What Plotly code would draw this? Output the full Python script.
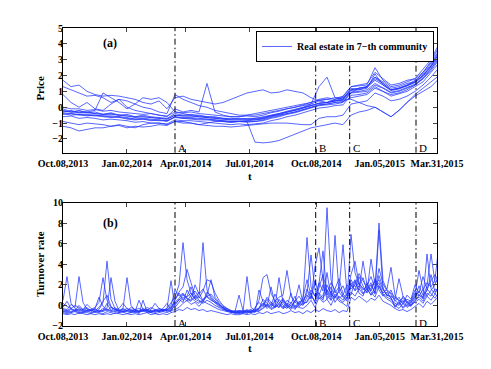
import plotly.graph_objects as go

# trading-day index of the samples (top panel every 8 days, bottom every 4 days)
t_price = list(range(0, 377, 8))
t_turn = list(range(0, 377, 4))

tick_pos = [0, 63.7, 122.7, 186.3, 253.3, 316.7, 374]
tick_text = ["Oct.08,2013", "Jan.02,2014", "Apr.01,2014", "Jul.01,2014",
             "Oct.08,2014", "Jan.05,2015", "Mar.31,2015"]

event_pos = [112, 252.7, 286.7, 353]
event_text = ["A", "B", "C", "D"]

# (a) normalised prices, one list per property
price_1 = [1.7, 1.3, 1.4, 1.0, 0.8, 0.7, 0.75, 0.7, 0.6, 0.5, 0.3, 0.2, 0.4, -0.1, 0.6, 0.7, 0.5, 0.4, 0.3, 0.2,
           0.3, 0.5, 0.7, 0.9, 1.0, 1.1, 0.9, 0.95, 1.1, 1.0, 0.9, 0.6, 0.4, 0.3, 0.5, 0.6, 0.9, 1.2, 1.3, 1.9,
           1.6, 1.2, 1.3, 1.5, 1.6, 2.2, 2.8, 3.6]
price_2 = [1.3, 1.1, 0.9, 0.7, 0.75, 0.6, 0.3, 0.5, 0.4, 0.2, 0.0, -0.1, -0.3, -0.4, 0.8, 0.5, 0.3, 0.1, 0.0, -0.2,
           -0.3, -0.4, -0.5, -0.5, -0.4, -0.3, -0.2, -0.1, 0.0, 0.1, 0.2, 0.3, 0.5, 0.6, 0.5, 0.7, 1.3, 1.4, 1.5, 2.2,
           1.8, 1.4, 1.5, 1.7, 1.8, 2.4, 3.0, 4.0]
price_3 = [0.8, 0.3, 0.0, 0.3, -0.1, -0.2, 0.2, 0.5, 0.0, -0.2, -0.3, -0.4, -0.5, -0.6, -0.1, -0.3, -0.2, -0.3, 1.5, -0.3,
           -0.5, -0.6, -0.6, -0.5, -0.5, -0.4, -0.3, -0.2, -0.1, 0.0, 0.1, 0.2, 0.4, 0.5, 0.4, 0.6, 1.1, 1.2, 1.3, 1.8,
           1.5, 1.1, 1.2, 1.4, 1.6, 2.0, 2.6, 3.2]
price_4 = [-1.2, -1.3, -1.5, -1.4, -1.3, -1.3, -1.2, -1.1, -1.2, -1.3, -1.1, -1.0, -1.0, -1.1, -0.9, -0.9, -1.0, -1.1, -1.0, -0.9,
           -0.9, -0.95, -0.9, -0.9, -2.2, -2.25, -2.2, -2.1, -1.9, -1.7, -1.5, -1.3, -1.2, -1.1, -1.0, -1.1, -0.5, -0.3, -0.2, 0.0,
           -0.3, -0.6, -0.2, 0.3, 0.7, 1.0, 1.3, 1.8]
price_5 = [-0.9, -1.0, -1.1, -1.0, -1.05, -1.1, -1.2, -1.15, -1.3, -1.2, -1.25, -1.2, -1.1, -1.15, -0.9, -1.0, -1.0, -1.1, -1.15, -1.2,
           -1.2, -1.25, -1.2, -1.15, -1.1, -1.05, -1.0, -1.0, -1.0, -1.05, -1.1, -1.1, -0.7, -0.6, -0.6, -0.5, 0.2, 0.3, 0.4, 0.9,
           0.7, 0.4, 0.5, 0.7, 1.0, 1.4, 1.9, 2.5]
price_6 = [-0.1, -0.3, -0.2, -0.35, -0.3, -0.45, -0.35, -0.5, -0.45, -0.6, -0.5, -0.6, -0.65, -0.7, -0.4, -0.5, -0.45, -0.55, -0.6, -0.65,
           -0.7, -0.75, -0.7, -0.75, -0.7, -0.6, -0.5, -0.4, -0.25, -0.1, 0.0, 0.2, 1.3, 1.9, 0.6, 0.5, 1.2, 1.1, 1.3, 1.9,
           1.5, 1.1, 1.2, 1.4, 1.7, 2.1, 2.7, 3.5]
price_7 = [-0.4, -0.5, -0.45, -0.55, -0.5, -0.6, -0.65, -0.6, -0.75, -0.8, -0.75, -0.85, -0.8, -0.9, -0.6, -0.7, -0.75, -0.8, -0.8, -0.85,
           -0.9, -0.95, -0.9, -0.95, -0.9, -0.85, -0.7, -0.6, -0.45, -0.35, -0.2, -0.05, 0.1, 0.15, 0.2, 0.3, 0.9, 0.95, 1.0, 1.4,
           1.2, 0.9, 1.0, 1.2, 1.4, 1.8, 2.3, 3.0]
price_8 = [0.0, -0.1, -0.1, -0.2, -0.15, -0.25, -0.2, -0.3, -0.35, -0.4, -0.45, -0.4, -0.5, -0.55, -0.3, -0.35, -0.3, -0.4, -0.45, -0.5,
           -0.55, -0.6, -0.6, -0.55, -0.6, -0.5, -0.35, -0.25, -0.1, 0.0, 0.15, 0.3, 0.45, 0.5, 0.6, 0.65, 1.3, 1.35, 1.4, 2.5,
           1.7, 1.3, 1.4, 1.6, 1.8, 2.2, 2.9, 3.8]
price_9 = [-0.6, -0.55, -0.7, -0.65, -0.7, -0.8, -0.75, -0.8, -0.85, -0.95, -0.9, -1.0, -1.0, -1.05, -0.8, -0.85, -0.85, -0.9, -0.95, -1.0,
           -1.05, -1.1, -1.05, -1.1, -1.05, -1.0, -0.85, -0.75, -0.6, -0.5, -0.35, -0.2, -0.05, 0.0, 0.1, 0.15, 0.75, 0.8, 0.9, 1.3,
           1.0, 0.7, 0.85, 1.0, 1.3, 1.6, 2.2, 2.8]
price_10 = [-0.2, -0.3, -0.25, -0.3, -0.2, 0.9, 0.6, 0.3, -0.1, 0.2, 0.6, 0.5, 0.6, 0.3, -0.3, -0.4, -0.5, -0.5, -0.6, -0.6,
            -0.7, -0.7, -0.75, -0.7, -0.7, -0.65, -0.5, -0.4, -0.3, -0.2, -0.05, 0.1, 0.25, 0.3, 0.4, 0.5, 1.1, 1.2, 1.25, 1.7,
            1.4, 1.1, 1.2, 1.35, 1.6, 2.0, 2.6, 3.4]
price_11 = [-0.45, -0.4, -0.5, -0.5, -0.55, -0.55, -0.6, -0.65, -0.7, -0.75, -0.75, -0.8, -0.85, -0.85, -0.65, -0.7, -0.7, -0.75, -0.75, -0.8,
            -0.85, -0.9, -0.9, -0.85, -0.8, -0.75, -0.6, -0.5, -0.4, -0.3, -0.15, 0.0, 0.15, 0.2, 0.3, 0.35, 0.6, 0.7, 0.8, 1.2,
            1.0, 0.8, 0.9, 1.1, 1.4, 1.8, 2.4, 3.1]
price_12 = [-0.3, -0.2, -0.35, -0.3, -0.4, -0.45, -0.4, -0.5, -0.55, -0.6, -0.6, -0.65, -0.7, -0.75, -0.5, -0.55, -0.55, -0.6, -0.65, -0.7,
            -0.75, -0.8, -0.8, -0.8, -0.75, -0.7, -0.55, -0.45, -0.3, -0.2, -0.05, 0.1, 0.25, 0.3, 0.4, 0.45, 0.5, 0.3, 0.1, 0.0,
            -0.3, -0.6, -0.2, 0.3, 0.8, 1.2, 1.6, 2.0]
price_13 = [-0.25, -0.3, -0.35, -0.35, -0.4, -0.45, -0.45, -0.5, -0.55, -0.65, -0.6, -0.65, -0.7, -0.75, -0.5, -0.55, -0.55, -0.6, -0.65, -0.7,
            -0.75, -0.8, -0.8, -0.8, -0.8, -0.7, -0.55, -0.45, -0.3, -0.2, -0.05, 0.1, 0.25, 0.3, 0.4, 0.45, 1.05, 1.1, 1.2, 2.1,
            1.4, 1.05, 1.15, 1.35, 1.55, 1.95, 2.55, 3.4]
price_14 = [-0.35, -0.4, -0.45, -0.45, -0.5, -0.55, -0.55, -0.6, -0.65, -0.75, -0.7, -0.75, -0.8, -0.85, -0.6, -0.65, -0.65, -0.7, -0.75, -0.8,
            -0.85, -0.9, -0.9, -0.9, -0.9, -0.8, -0.65, -0.55, -0.4, -0.3, -0.15, 0.0, 0.15, 0.2, 0.3, 0.35, 0.95, 1.0, 1.1, 1.5,
            1.25, 0.95, 1.05, 1.25, 1.45, 1.85, 2.45, 3.2]

# (b) turnover rates
turn_1 = [0.5, 2.8, 0.2, -0.3, -0.5, -0.4, -0.6, -0.5, -0.6, -0.4, 0.3, 4.3, 0.6, -0.3, -0.5, -0.6, -0.5, -0.6, -0.4, -0.6,
          -0.5, -0.7, -0.5, -0.6, -0.4, -0.5, -0.3, 0.2,
          0.8, 2.0, 6.1, 2.5, 1.2, 0.6, 0.4, 0.2, 0.5, 0.3, 0.0, -0.2, -0.4, -0.5, -0.6, -0.7,
          -0.7, -0.6, -0.5, -0.6, -0.4, -0.3, 0.2, -0.1, 0.3, 0.0, -0.2, 0.4, 0.1, -0.3, 0.5, 0.2, 0.0,
          0.8, 1.5, 0.9, 2.2, 1.4, 9.5, 2.5, 1.2, 1.8, 0.9, 0.6,
          2.5, 1.8, 2.2, 1.5, 1.9, 2.8, 1.6, 8.0, 2.4, 1.5, 1.2,
          0.8, 0.5, 0.3, 0.6, 0.4,
          1.2, 0.9, 1.5, 2.2, 1.8, 2.5, 6.0]
turn_2 = [-0.3, -0.4, 0.1, -0.2, 2.8, 0.3, -0.4, -0.5, -0.3, -0.6, -0.5, -0.3, 2.7, 0.4, -0.5, -0.4, -0.6, -0.7, -0.5, -0.6,
          -0.4, -0.5, -0.7, -0.5, -0.6, -0.4, -0.5, -0.6,
          0.2, 0.5, 1.0, 0.8, 1.2, 0.6, 0.9, 6.1, 1.5, 0.7, 0.4, 0.1, -0.2, -0.4, -0.6, -0.5,
          -0.6, -0.7, -0.5, -0.4, -0.6, -0.3, 0.6, 0.2, -0.2, 0.5, 0.1, -0.3, 0.2, 0.0, -0.4, 0.3, 0.6,
          6.6, 1.8, 0.9, 1.2, 0.7, 1.5, 0.5, 6.8, 1.3, 0.8, 0.4,
          6.9, 3.2, 2.0, 1.2, 1.6, 1.0, 1.8, 2.2, 1.1, 0.8, 0.6,
          0.2, 0.0, 0.5, -0.1, 0.3,
          0.8, 1.4, 0.7, 5.0, 1.6, 1.1, 2.0]
turn_3 = [-0.5, -0.6, -0.4, -0.5, -0.3, -0.6, -0.5, -0.4, -0.2, 0.3, 2.7, 0.5, -0.2, -0.4, -0.5, -0.3, 2.7, 0.0, -0.5, -0.6,
          -0.5, -0.4, -0.6, -0.5, -0.3, -0.5, -0.4, -0.2,
          0.5, 1.3, 1.8, 3.5, 2.2, 1.0, 0.7, 1.4, 2.5, 2.3, 1.2, 0.5, 0.0, -0.3, -0.5, -0.6,
          -0.5, -0.6, 2.8, -0.2, -0.5, -0.4, 0.0, 0.8, 0.3, -0.2, 0.2, 0.7, 0.0, -0.2, 0.4, 0.9, 0.3,
          1.2, 4.9, 1.5, 0.6, 1.0, 2.0, 1.1, 0.7, 1.5, 5.9, 1.2,
          1.8, 2.5, 1.5, 4.3, 2.0, 1.4, 2.6, 1.8, 1.2, 1.6, 3.7,
          1.0, 0.4, 0.7, 0.2, 0.5,
          1.5, 1.0, 0.8, 1.9, 5.0, 2.2, 2.6]
turn_4 = [-0.6, -0.7, -0.6, -0.5, -0.7, -0.6, -0.5, -0.7, -0.6, -0.5, -0.6, -0.4, -0.6, -0.5, -0.7, -0.6, -0.5, -0.4, -0.6, -0.7,
          -0.5, -0.6, -0.7, -0.5, -0.6, -0.5, -0.3, 2.4,
          -0.2, 0.3, 0.8, 0.4, 1.0, 1.4, 0.8, 0.5, 0.9, 1.1, 0.6, 0.2, -0.3, -0.5, -0.6, -0.7,
          -0.6, -0.5, -0.7, -0.6, -0.3, 0.5, 2.7, 3.0, 1.2, 0.4, 0.8, 1.0, 3.4, 0.9, 0.3, 0.1, 0.5,
          1.0, 0.6, 3.8, 5.6, 2.4, 1.0, 1.8, 0.8, 1.3, 1.9, 0.9,
          3.0, 4.3, 2.1, 1.7, 1.3, 4.5, 2.0, 2.5, 1.5, 1.0, 0.9,
          0.6, 2.6, 0.9, 0.4, 0.2,
          1.0, 3.4, 1.5, 0.9, 1.4, 2.0, 3.1]
turn_5 = [-0.7, -0.8, -0.7, -0.6, -0.8, -0.7, -0.7, -0.8, -0.6, -0.7, -0.8, -0.6, -0.7, -0.8, -0.7, -0.6, -0.8, -0.7, -0.6, -0.8,
          0.5, -0.6, -0.7, -0.8, -0.7, -0.6, -0.7, -0.5,
          -0.4, -0.2, 0.2, 0.5, 0.1, 0.3, -0.1, 0.4, 0.2, 0.0, -0.2, -0.4, -0.5, -0.6, -0.7, -0.6,
          1.0, -0.5, -0.6, -0.7, -0.5, -0.6, -0.2, 0.1, -0.3, -0.1, 2.7, 0.3, -0.2, 0.0, 0.4, 2.0, 0.2,
          0.3, 0.9, 0.4, 2.1, 5.3, 0.9, 0.5, 1.1, 0.6, 0.3, 0.8,
          1.3, 0.9, 1.6, 1.1, 1.4, 2.0, 1.2, 7.3, 1.6, 1.0, 0.8,
          -0.2, 0.3, -0.3, 0.1, -0.1,
          0.5, 0.8, 0.4, 1.2, 0.9, 1.6, 1.4]
turn_6 = [-0.4, -0.5, -0.3, -0.6, -0.4, -0.5, -0.3, -0.5, -0.4, -0.6, -0.3, -0.5, -0.2, -0.4, -0.6, -0.5, -0.3, -0.5, -0.6, 0.5,
          -0.4, -0.5, -0.6, -0.4, -0.5, -0.6, -0.4, -0.5,
          0.0, 0.6, 0.3, 1.5, 0.8, 0.4, 0.2, 0.6, 1.0, 2.5, 0.8, 0.3, -0.1, -0.3, -0.5, -0.7,
          -0.8, -0.7, -0.6, -0.7, -0.6, -0.5, -0.3, 0.0, -0.4, -0.2, 0.1, -0.3, -0.1, -0.4, 0.0, -0.2, -0.3,
          0.0, 0.5, -0.2, 0.8, 0.3, 0.6, 0.0, 0.9, 0.4, 0.2, -0.1,
          2.0, 1.5, 2.8, 1.9, 1.2, 1.7, 2.4, 1.5, 0.9, 1.3, 0.7,
          0.0, -0.3, 0.2, -0.2, 0.1,
          0.3, 0.6, 0.2, 0.9, 0.5, 1.1, 0.8]
turn_7 = [0.2, -0.1, -0.3, 0.0, -0.2, -0.4, 0.1, -0.3, -0.5, -0.2, 0.4, 1.0, -0.1, -0.4, -0.3, 0.2, -0.3, -0.5, -0.4, -0.3,
          -0.5, -0.2, -0.4, 0.2, -0.3, -0.4, -0.5, 0.0,
          1.5, 0.9, 1.2, 0.7, 0.5, 2.0, 1.1, 1.6, 0.8, 0.5, 0.3, 0.0, -0.2, -0.5, -0.6, -0.8,
          -0.7, -0.8, -0.6, -0.5, -0.7, 1.5, 0.4, -0.1, 1.8, 0.2, -0.2, 0.6, -0.1, 1.2, -0.3, 0.0, 0.8,
          2.5, 1.0, 0.4, 1.6, 3.0, 1.3, 2.2, 1.5, 0.7, 1.0, 2.0,
          1.6, 2.0, 3.1, 2.4, 1.8, 1.0, 1.4, 3.6, 2.1, 1.4, 1.1,
          0.4, 0.8, 0.1, 1.0, 0.6,
          2.0, 1.2, 2.8, 1.6, 2.4, 3.0, 2.2]
turn_8 = [-0.8, -0.9, -0.8, -0.9, -0.7, -0.8, -0.9, -0.8, -0.9, -0.8, -0.9, -0.8, -0.9, -0.7, -0.8, -0.9, -0.8, -0.9, -0.8, -0.9,
          -0.8, -0.7, -0.9, -0.8, -0.9, -0.8, -0.9, -0.7,
          -0.6, -0.4, -0.5, -0.2, -0.4, -0.3, -0.5, -0.4, -0.6, -0.5, -0.6, -0.7, -0.8, -0.9, -0.8, -0.9,
          -0.9, -0.8, -0.9, -0.8, -0.9, -0.7, -0.8, -0.6, -0.8, -0.7, -0.6, -0.8, -0.7, -0.5, -0.7, -0.6, -0.8,
          -0.5, -0.7, -0.4, -0.6, -0.3, -0.5, -0.6, -0.4, -0.7, -0.5, -0.6,
          0.8, 0.5, 0.9, 0.6, 0.3, 0.7, 0.5, 1.0, 0.4, 0.2, 0.0,
          -0.3, -0.5, -0.4, -0.6, -0.4,
          -0.1, 0.2, -0.2, 0.4, 0.1, 0.5, 0.9]
turn_9 = [-0.2, 0.4, -0.3, -0.5, 0.0, -0.4, -0.2, -0.6, -0.3, 0.8, -0.1, -0.4, -0.5, -0.2, -0.6, -0.3, -0.5, -0.2, -0.4, -0.6,
          -0.3, -0.5, -0.2, -0.4, -0.6, -0.3, 0.2, -0.4,
          0.6, 1.2, 0.5, 0.9, 1.8, 0.7, 1.3, 0.4, 0.9, 0.6, 0.2, -0.1, -0.3, -0.6, -0.5, -0.7,
          -0.5, -0.6, -0.4, -0.7, -0.2, 0.3, -0.1, 0.6, 0.0, 1.1, 0.3, -0.2, 0.5, 0.2, 0.9, -0.1, 0.2,
          1.6, 0.7, 2.4, 1.0, 0.5, 3.2, 0.8, 1.6, 2.6, 1.1, 0.7,
          2.2, 1.4, 1.9, 2.7, 1.5, 2.2, 1.1, 2.9, 1.7, 0.9, 1.5,
          0.5, 0.1, 0.9, 0.3, 0.0,
          0.7, 1.9, 1.0, 1.4, 3.0, 1.3, 1.8]
turn_10 = [-0.6, -0.5, -0.7, -0.4, -0.6, -0.7, -0.5, -0.4, -0.7, -0.6, -0.5, 0.2, -0.5, -0.6, -0.4, -0.7, -0.5, -0.6, -0.7, -0.5,
           -0.6, -0.4, -0.5, -0.7, -0.5, -0.4, -0.6, -0.3,
           0.3, 0.7, 1.1, 0.6, 0.4, 0.9, 0.5, 0.3, 1.3, 0.9, 0.4, 0.1, -0.2, -0.4, -0.7, -0.6,
           -0.7, -0.6, -0.8, -0.5, -0.6, -0.2, 0.2, -0.3, 0.1, -0.2, 0.6, 0.0, -0.3, 0.3, -0.2, 0.4, 0.1,
           0.4, 1.2, 0.2, 1.0, 2.0, 0.6, 1.4, 0.3, 0.9, 0.5, 1.2,
           1.0, 2.4, 1.2, 0.9, 2.2, 1.3, 0.8, 1.9, 1.0, 0.6, 0.4,
           -0.1, 0.4, -0.2, 0.3, 0.0,
           0.4, 1.0, 0.6, 1.6, 1.1, 0.7, 1.3]

prices = [price_1, price_2, price_3, price_4, price_5, price_6, price_7,
          price_8, price_9, price_10, price_11, price_12, price_13, price_14]
turnovers = [turn_1, turn_2, turn_3, turn_4, turn_5, turn_6, turn_7, turn_8, turn_9, turn_10]

LINE = "rgba(35,55,255,0.85)"
SERIF = "Liberation Serif"

fig = go.Figure()
for i, ys in enumerate(prices):
    fig.add_trace(go.Scatter(x=t_price, y=ys, mode="lines", xaxis="x", yaxis="y",
                             line=dict(color=LINE, width=0.9),
                             name="<b>Real estate in 7\u2212th community</b>", showlegend=(i == 0)))
for ys in turnovers:
    fig.add_trace(go.Scatter(x=t_turn, y=ys, mode="lines", xaxis="x2", yaxis="y2",
                             line=dict(color=LINE, width=0.9), showlegend=False))

# event markers A-D in both panels
for pos, lab in zip(event_pos, event_text):
    for xr, yr, ylab in [("x", "y", -2.55), ("x2", "y2", -1.7)]:
        fig.add_shape(type="line", xref=xr, yref=yr + " domain", x0=pos, x1=pos, y0=0, y1=1,
                      line=dict(color="black", width=1, dash="6px,3px,1.5px,3px"))
        fig.add_annotation(x=pos, y=ylab, xref=xr, yref=yr, text=lab, showarrow=False,
                           xanchor="left", yanchor="middle", xshift=1,
                           font=dict(family=SERIF, size=11, color="black"))

tickfont = dict(family=SERIF, size=10, color="black", weight="bold")
xcommon = dict(range=[0, 374], tickvals=tick_pos, ticktext=tick_text, ticks="inside", ticklen=4,
               showline=True, linecolor="black", linewidth=1, mirror="allticks", ticklabelstandoff=1,
               showgrid=False, zeroline=False, tickfont=tickfont)
ycommon = dict(ticks="inside", ticklen=4, showline=True, linecolor="black", linewidth=1,
               mirror="allticks", showgrid=False, zeroline=False, tickfont=tickfont, ticklabelstandoff=-3)


def label(text, x, y, size=11, angle=0):
    return dict(text=text, x=x, y=y, xref="paper", yref="paper", showarrow=False,
                xanchor="center", yanchor="middle", textangle=angle,
                font=dict(family=SERIF, size=size, weight="bold", color="black"))


# the page body adds an 8px offset, so the margins are shifted to compensate
fig.update_layout(
    width=491, height=369,
    margin=dict(l=55, r=62, t=20, b=51),
    paper_bgcolor="white", plot_bgcolor="white",
    font=dict(family=SERIF, color="black"),
    xaxis=dict(domain=[0, 1], anchor="y", **xcommon),
    yaxis=dict(domain=[0.5815, 1], anchor="x", range=[-2.87, 5], tickvals=[-2, -1, 0, 1, 2, 3, 4, 5], **ycommon),
    xaxis2=dict(domain=[0, 1], anchor="y2", **xcommon),
    yaxis2=dict(domain=[0, 0.4144], anchor="x2", range=[-2, 10], tickvals=[-2, 0, 2, 4, 6, 8, 10], **ycommon),
    legend=dict(x=0.992, y=0.99, xanchor="right", yanchor="top", bgcolor="white",
                bordercolor="black", borderwidth=1, itemwidth=30,
                font=dict(family=SERIF, size=10, color="black"),
                tracegroupgap=0),
    annotations=list(fig.layout.annotations) + [
        label("(a)", 0.1257, 0.95, 12),
        label("(b)", 0.1257, 0.3456, 12),
        label("Price", -0.0615, 0.80, 11, -90),
        label("Turnover rate", -0.0615, 0.208, 11, -90),
        label("t", 0.5, 0.505),
        label("t", 0.5, -0.075),
    ],
)

fig.write_html("out.html")
